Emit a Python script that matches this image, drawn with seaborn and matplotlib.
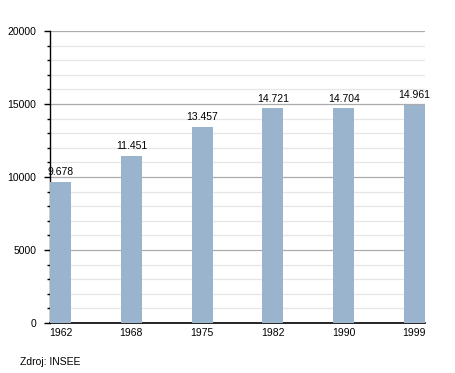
import numpy as np
import pandas as pd
import matplotlib
matplotlib.use("Agg")
import matplotlib.pyplot as plt
import seaborn as sns
from matplotlib.ticker import MultipleLocator

years = ["1962", "1968", "1975", "1982", "1990", "1999"]
population = [9678, 11451, 13457, 14721, 14704, 14961]
value_labels = ["9.678", "11.451", "13.457", "14.721", "14.704", "14.961"]

sns.set_style("white")
plt.rcParams["font.family"] = ["Liberation Sans", "DejaVu Sans"]
plt.rcParams["text.color"] = "black"
plt.rcParams["xtick.color"] = "black"
plt.rcParams["ytick.color"] = "black"

df = pd.DataFrame({"year": years, "pop": population})

fig = plt.figure(figsize=(4.55, 3.73), dpi=100)
ax = fig.add_axes([50 / 455, 50 / 373, 375 / 455, 292 / 373])

sns.barplot(data=df, x="year", y="pop", color="#9ab4cd", saturation=1,
            width=0.3, linewidth=0, ax=ax, zorder=3)

ax.set_xlim(-0.15, 5.15)
ax.set_ylim(0, 20000)
ax.yaxis.set_major_locator(MultipleLocator(5000))
ax.yaxis.set_minor_locator(MultipleLocator(1000))
ax.grid(axis="y", which="major", color="#ababab", linewidth=0.9, zorder=0)
ax.grid(axis="y", which="minor", color="#e6e6e6", linewidth=0.9, zorder=0)
ax.set_axisbelow(True)

for s in ["top", "right"]:
    ax.spines[s].set_visible(False)
ax.spines["left"].set_color("black")
ax.spines["bottom"].set_color("black")
ax.spines["left"].set_linewidth(1)
ax.spines["bottom"].set_linewidth(1.2)

ax.tick_params(axis="y", which="major", left=True, length=4, width=1,
               labelsize=7.5, pad=6, labelcolor="black")
ax.tick_params(axis="y", which="minor", left=True, length=2, width=1)
ax.tick_params(axis="x", bottom=False, labelsize=7.5, pad=0,
               labelcolor="black")

ax.set_xlabel("")
ax.set_ylabel("")

for i, (v, lbl) in enumerate(zip(population, value_labels)):
    ax.text(i, v + 300, lbl, ha="center", va="bottom", fontsize=7.5,
            color="black", zorder=4)

fig.text(20 / 455, 1 - 362 / 373, "Zdroj: INSEE", fontsize=7.5, ha="left",
         va="center", color="black")

fig.savefig("out.png", dpi=100)
